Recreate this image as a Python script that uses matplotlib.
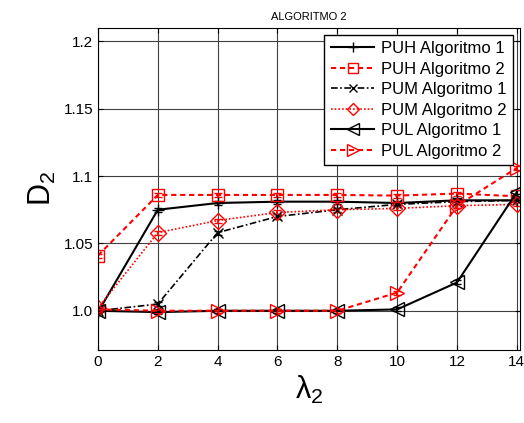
import matplotlib
matplotlib.use("Agg")
import matplotlib.pyplot as plt
from matplotlib.lines import Line2D

# Police type Arial, tirets courts comme MATLAB
matplotlib.rcParams.update({'font.family': ['Liberation Sans', 'DejaVu Sans'],
                            'mathtext.fontset': 'custom',
                            'mathtext.rm': 'Liberation Sans',
                            'mathtext.it': 'Liberation Sans:italic',
                            'lines.dashed_pattern': [2.5, 1.8],
                            'lines.dashdot_pattern': [4, 1.5, 1, 1.5],
                            'lines.dotted_pattern': [1, 1.2]})

# Donnees
lambda2 = [0, 2, 4, 6, 8, 10, 12, 14]
puh_alg1 = [0.999, 1.075, 1.080, 1.081, 1.081, 1.080, 1.082, 1.082]
puh_alg2 = [1.041, 1.086, 1.086, 1.086, 1.086, 1.0855, 1.087, 1.085]
pum_alg1 = [1.000, 1.005, 1.058, 1.070, 1.075, 1.079, 1.081, 1.082]
pum_alg2 = [1.002, 1.058, 1.067, 1.073, 1.075, 1.076, 1.078, 1.079]
pul_alg1 = [1.000, 0.999, 1.000, 1.000, 1.000, 1.001, 1.021, 1.088]
pul_alg2 = [1.001, 1.000, 1.000, 1.000, 1.000, 1.0135, 1.078, 1.106]

series = [
    (puh_alg1, "PUH Algoritmo 1", 'k', '-', '+', 9, 1.5),
    (puh_alg2, "PUH Algoritmo 2", 'r', '--', 's', 9, 1.5),
    (pum_alg1, "PUM Algoritmo 1", 'k', '-.', 'x', 7, 1.2),
    (pum_alg2, "PUM Algoritmo 2", 'r', ':', 'D', 8, 1.2),
    (pul_alg1, "PUL Algoritmo 1", 'k', '-', '<', 10, 1.5),
    (pul_alg2, "PUL Algoritmo 2", 'r', '--', '>', 10, 1.5),
]

fig = plt.figure(figsize=(5.24, 4.23), dpi=100)
ax = fig.add_axes([0.187, 0.173, 0.805, 0.761])

err = 0.0015
handles = []
for y, lab, c, ls, m, ms, lw in series:
    ax.errorbar(lambda2, y, yerr=err, color=c, ls=ls, marker=m, ms=ms, mfc='none', lw=lw,
                capsize=3)
    handles.append(Line2D([], [], color=c, ls=ls, marker=m, ms=ms * 0.8, mfc='none', lw=lw,
                          label=lab))

ax.set_xlim(0, 14.1)
ax.set_ylim(0.971, 1.21)
ax.set_xticks(lambda2)
ax.set_yticks([1.0, 1.05, 1.1, 1.15, 1.2])
ax.set_yticklabels(["1.0", "1.05", "1.1", "1.15", "1.2"])
ax.tick_params(direction='in', top=True, right=True, labelsize=11)
ax.grid(True, color='#404040', lw=0.8)
ax.set_axisbelow(True)

ax.set_title("ALGORITMO 2", fontsize=8)
ax.set_xlabel("λ$_2$", fontsize=22)
ax.set_ylabel(r"$\mathrm{D}_2$", fontsize=22)

leg = ax.legend(handles=handles, loc='upper right', fontsize=12, fancybox=False, framealpha=1,
                edgecolor='k', borderaxespad=0.4, handlelength=2.6, labelspacing=0.33,
                handletextpad=0.4)
leg.get_frame().set_linewidth(1.0)

plt.savefig("out.png", dpi=100)
